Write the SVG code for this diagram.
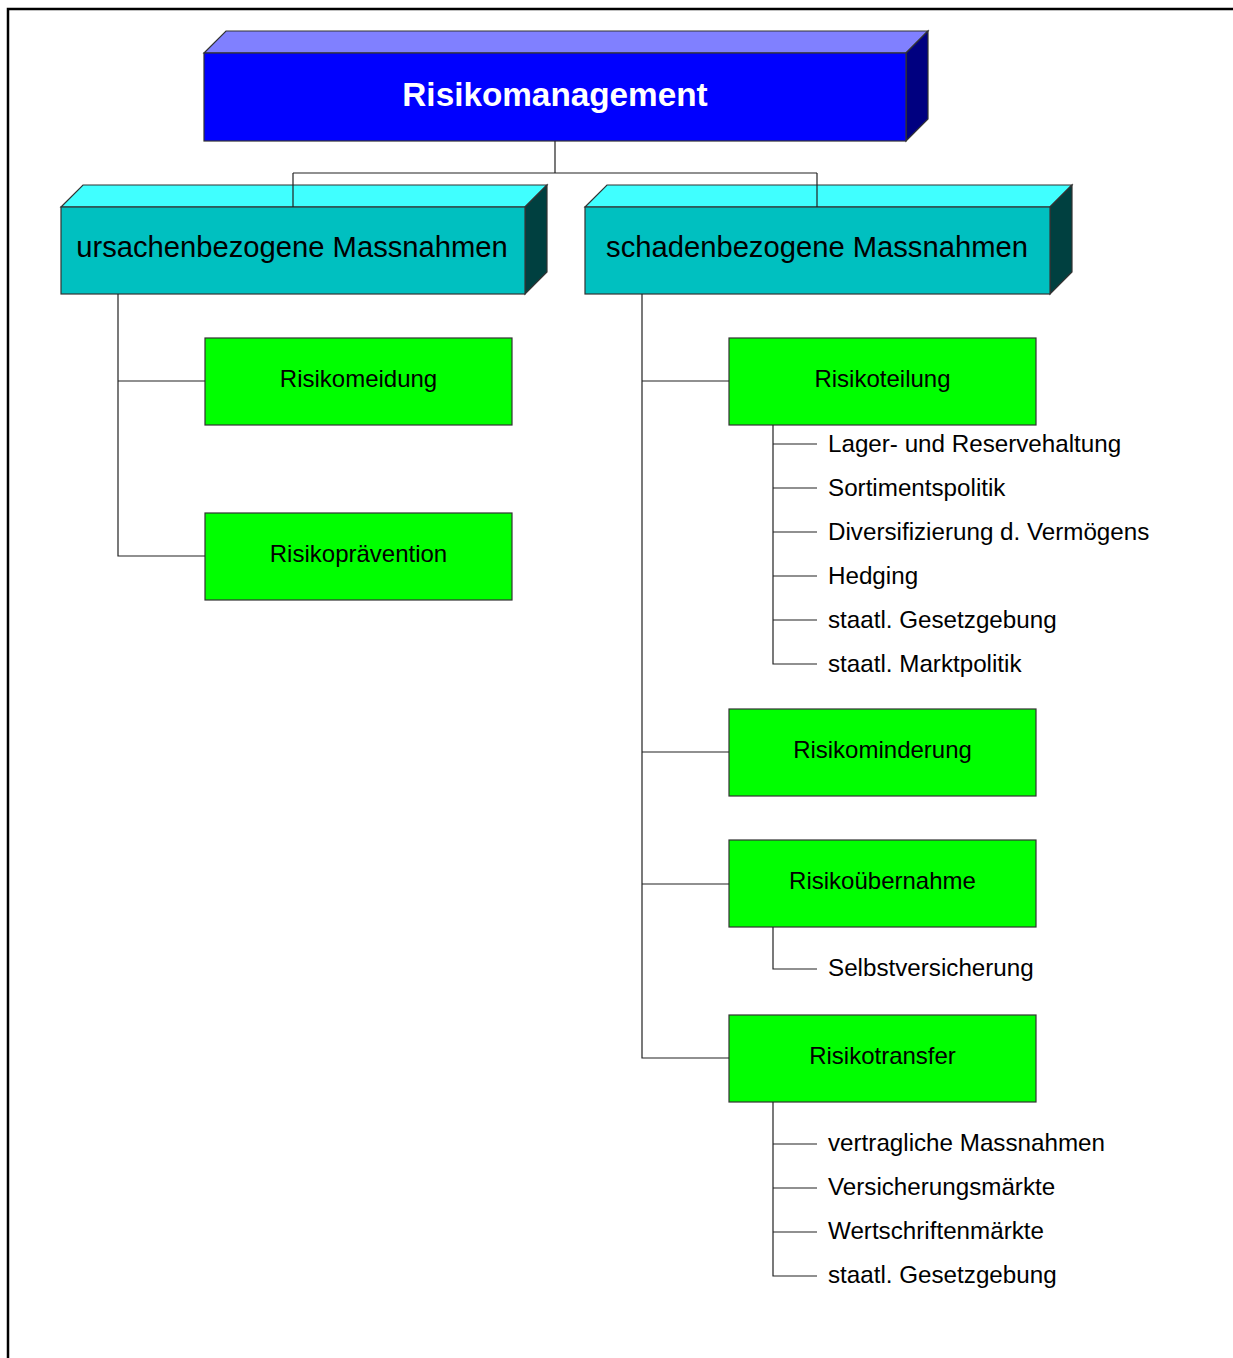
<svg xmlns="http://www.w3.org/2000/svg" width="1233" height="1358" viewBox="0 0 1233 1358">
<style>
text{font-family:"Liberation Sans",Arial,sans-serif;fill:#000}
.ln{stroke:#222;stroke-width:1.2;fill:none}
.edge{stroke:#333;stroke-width:1.2}
.g{fill:#00FF00;stroke:#333;stroke-width:1.2}
.gl{font-size:24px;text-anchor:middle}
.sub{font-size:24.2px}
.cl{font-size:29.2px;text-anchor:middle}
</style>
<rect width="1233" height="1358" fill="#fff"/>
<path d="M8,1358 V9 H1233" fill="none" stroke="#000" stroke-width="2.5"/>
<g id="root">
<polygon class="edge" points="204,53 226,31 928,31 906,53" fill="#8080FF"/>
<polygon class="edge" points="906,53 928,31 928,119 906,141" fill="#000080"/>
<rect class="edge" x="204" y="53" width="702" height="88" fill="#0000FF"/>
<text x="555" y="106" font-size="33.3" font-weight="bold" text-anchor="middle" style="fill:#fff">Risikomanagement</text>
</g>
<g id="ursachen">
<polygon class="edge" points="61,207 83,185 547,185 525,207" fill="#40FFFF"/>
<polygon class="edge" points="525,207 547,185 547,272 525,294" fill="#004040"/>
<rect class="edge" x="61" y="207" width="464" height="87" fill="#00C0C0"/>
<text class="cl" x="292" y="257">ursachenbezogene Massnahmen</text>
</g>
<g id="schaden">
<polygon class="edge" points="585,207 607,185 1072,185 1050,207" fill="#40FFFF"/>
<polygon class="edge" points="1050,207 1072,185 1072,272 1050,294" fill="#004040"/>
<rect class="edge" x="585" y="207" width="465" height="87" fill="#00C0C0"/>
<text class="cl" x="817" y="257">schadenbezogene Massnahmen</text>
</g>
<g id="risikomeidung"><rect class="g" x="205" y="338" width="307" height="87"/><text class="gl" x="358.5" y="387">Risikomeidung</text></g>
<g id="risikopraevention"><rect class="g" x="205" y="513" width="307" height="87"/><text class="gl" x="358.5" y="562">Risikoprävention</text></g>
<g id="risikoteilung"><rect class="g" x="729" y="338" width="307" height="87"/><text class="gl" x="882.5" y="387">Risikoteilung</text></g>
<g id="risikominderung"><rect class="g" x="729" y="709" width="307" height="87"/><text class="gl" x="882.5" y="758">Risikominderung</text></g>
<g id="risikouebernahme"><rect class="g" x="729" y="840" width="307" height="87"/><text class="gl" x="882.5" y="889">Risikoübernahme</text></g>
<g id="risikotransfer"><rect class="g" x="729" y="1015" width="307" height="87"/><text class="gl" x="882.5" y="1064">Risikotransfer</text></g>
<g id="connectors">
<path class="ln" d="M555,141 V173 M293,173 H817 M293,173 V207 M817,173 V207"/>
<path class="ln" d="M118,294 V556 H205 M118,381 H205"/>
<path class="ln" d="M642,294 V1058 H729 M642,381 H729 M642,752 H729 M642,884 H729"/>
<path class="ln" d="M773,425 V664 H817 M773,444 H817 M773,488 H817 M773,532 H817 M773,576 H817 M773,620 H817"/>
<path class="ln" d="M773,927 V969 H817"/>
<path class="ln" d="M773,1102 V1276 H817 M773,1144 H817 M773,1188 H817 M773,1232 H817"/>
</g>
<g id="items">
<text class="sub" x="828" y="452">Lager- und Reservehaltung</text>
<text class="sub" x="828" y="496">Sortimentspolitik</text>
<text class="sub" x="828" y="540">Diversifizierung d. Vermögens</text>
<text class="sub" x="828" y="584">Hedging</text>
<text class="sub" x="828" y="628">staatl. Gesetzgebung</text>
<text class="sub" x="828" y="672">staatl. Marktpolitik</text>
<text class="sub" x="828" y="976">Selbstversicherung</text>
<text class="sub" x="828" y="1151">vertragliche Massnahmen</text>
<text class="sub" x="828" y="1195">Versicherungsmärkte</text>
<text class="sub" x="828" y="1239">Wertschriftenmärkte</text>
<text class="sub" x="828" y="1283">staatl. Gesetzgebung</text>
</g>
</svg>
